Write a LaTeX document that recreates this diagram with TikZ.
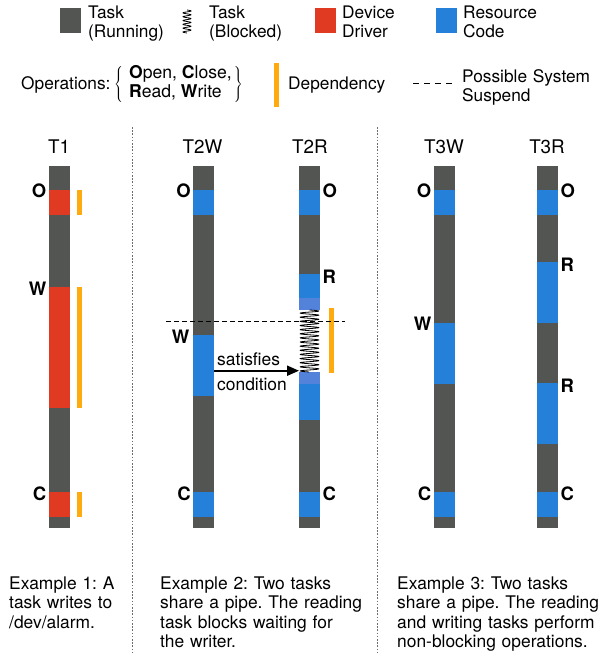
\documentclass[tikz,border=0pt]{standalone}
\usepackage{fontspec}
\setmainfont{TeX Gyre Heros}
\usetikzlibrary{arrows.meta}
\definecolor{taskgray}{RGB}{83,85,82}
\definecolor{drvred}{RGB}{224,58,35}
\definecolor{resblue}{RGB}{37,128,217}
\definecolor{lightres}{RGB}{82,130,218}
\definecolor{depor}{RGB}{255,171,15}
\definecolor{divgray}{RGB}{110,110,110}
\newcommand\barseg[4]{\fill[#1] (#2-10.5,#3) rectangle (#2+10.5,#4);}
\frenchspacing
\begin{document}
\begin{tikzpicture}[x=1pt,y=-1pt,
  txt/.style={font=\fontsize{17.3}{19.5}\selectfont, inner sep=0pt},
  multi/.style={txt, text width=#1, align=left, anchor=base west},
  captxt/.style={font=\fontsize{17.4}{19.3}\selectfont, inner sep=0pt, text width=#1, align=left, anchor=base west},
  oplab/.style={font=\fontsize{18.5}{19.5}\selectfont\bfseries, inner sep=0pt},
  title/.style={font=\fontsize{18.8}{19.5}\selectfont, inner sep=0pt, anchor=center},
  depline/.style={draw=depor, line width=5pt},
  divider/.style={draw=divgray, line width=0.9pt, dash pattern=on 1.6pt off 1.6pt},
  suspend/.style={draw=black, line width=1pt, dash pattern=on 5pt off 3pt},
  spring/.style={draw=black, line width=0.8pt}]
\useasboundingbox (0,0) rectangle (602,653);

% ---------- legend ----------
\fill[taskgray] (60,8) rectangle (81,33);
\node[multi=100pt] (lgTask) at (88,18) {Task\\(Running)};
\draw[spring] plot[domain=0:1, samples=120] ({187+4*sin(2160*\x)}, {10+23*\x});
\node[multi=100pt] (lgBlk) at (209,18) {Task\\(Blocked)};
\fill[drvred] (315,8) rectangle (336,33);
\node[multi=100pt] (lgDrv) at (342,18) {Device\\Driver};
\fill[resblue] (436,8) rectangle (457,33);
\node[multi=100pt] (lgRes) at (463,18) {Resource\\Code};

\node[txt, anchor=base west] (lgOps) at (21,89) {Operations:};
\node[txt, anchor=west, font=\fontsize{17.6}{19.5}\selectfont] (lgOpList) at (114,84)
  {$\left\{\begin{tabular}{@{\hspace{6pt}}l@{\hspace{2pt}}}\textbf{O}pen, \textbf{C}lose,\\ \textbf{R}ead, \textbf{W}rite\end{tabular}\right\}$};
\draw[depline] (276.5,63) -- (276.5,107);
\node[txt, anchor=base west] (lgDep) at (288,89) {Dependency};
\draw[suspend, dash pattern=on 6pt off 5pt] (413,83.5) -- (452,83.5);
\node[multi=150pt] (lgSus) at (462,82) {Possible System\\Suspend};

% ---------- dividers ----------
\draw[divider] (132.5,127) -- (132.5,653);
\draw[divider] (377,127) -- (377,653);

% ---------- column titles ----------
\node[title] (tT1) at (59,147) {T1};
\node[title] (tT2W) at (202.5,147) {T2W};
\node[title] (tT2R) at (310,147) {T2R};
\node[title] (tT3W) at (444,147) {T3W};
\node[title] (tT3R) at (547,147) {T3R};

% ---------- T1 ----------
\barseg{taskgray}{59.5}{166}{528}
\barseg{drvred}{59.5}{190}{215}
\barseg{drvred}{59.5}{287}{408}
\barseg{drvred}{59.5}{492}{517}
\draw[depline] (79.5,190) -- (79.5,215);
\draw[depline] (79.5,287) -- (79.5,408);
\draw[depline] (79.5,492) -- (79.5,517);
\node[oplab, anchor=east] (t1O) at (46.5,191) {O};
\node[oplab, anchor=east] (t1W) at (46.5,289) {W};
\node[oplab, anchor=east] (t1C) at (46.5,494) {C};

% ---------- T2W ----------
\barseg{taskgray}{203.5}{166}{528}
\barseg{resblue}{203.5}{190}{215}
\barseg{resblue}{203.5}{335}{396}
\barseg{resblue}{203.5}{492}{517}
\node[oplab, anchor=east] (t2wO) at (191,191) {O};
\node[oplab, anchor=east] (t2wW) at (189.5,337) {W};
\node[oplab, anchor=east] (t2wC) at (191,494) {C};

% ---------- T2R ----------
\barseg{taskgray}{309.5}{166}{528}
\barseg{resblue}{309.5}{190}{215}
\barseg{resblue}{309.5}{274}{298}
\barseg{lightres}{309.5}{298}{310}
\barseg{white}{309.5}{310}{372}
\barseg{lightres}{309.5}{372}{384}
\barseg{resblue}{309.5}{384}{420}
\barseg{resblue}{309.5}{492}{517}
\draw[spring] plot[domain=0:1, samples=500] ({309.5+9.3*sin(5400*\x)}, {310+62*\x});
\draw[depline] (331.8,308) -- (331.8,373);
\node[oplab, anchor=west] (t2rO) at (322.5,191) {O};
\node[oplab, anchor=west] (t2rR) at (322.5,277) {R};
\node[oplab, anchor=west] (t2rC) at (322.5,494) {C};

% suspend line
\coordinate (susL) at (166,321.5);
\coordinate (susR) at (345,321.5);
\draw[suspend] (susL) -- (susR);

% satisfies arrow
\coordinate (wsrc) at (214,370.7);
\coordinate (wdst) at (299,370.7);
\draw[line width=2pt, -{Triangle[length=12pt,width=10pt]}] (wsrc) -- (wdst);
\node[captxt=100pt] (sat1) at (217,365.5) {satisfies};
\node[captxt=100pt] (sat2) at (217,390) {condition};

% ---------- T3W ----------
\barseg{taskgray}{444.5}{166}{528}
\barseg{resblue}{444.5}{190}{215}
\barseg{resblue}{444.5}{323}{384}
\barseg{resblue}{444.5}{492}{517}
\node[oplab, anchor=east] (t3wO) at (431.5,191) {O};
\node[oplab, anchor=east] (t3wW) at (431.5,324) {W};
\node[oplab, anchor=east] (t3wC) at (431.5,494) {C};

% ---------- T3R ----------
\barseg{taskgray}{547.5}{166}{528}
\barseg{resblue}{547.5}{190}{215}
\barseg{resblue}{547.5}{262}{323}
\barseg{resblue}{547.5}{383}{444}
\barseg{resblue}{547.5}{492}{517}
\node[oplab, anchor=west] (t3rO) at (560.5,191) {O};
\node[oplab, anchor=west] (t3rR1) at (560.5,265) {R};
\node[oplab, anchor=west] (t3rR2) at (560.5,386) {R};
\node[oplab, anchor=west] (t3rC) at (560.5,494) {C};

% ---------- captions ----------
\node[captxt=140pt] (cap1) at (9,589.5) {Example 1: A\\task writes to\\/dev/alarm.};
\node[captxt=210pt] (cap2) at (160,589.5) {Example 2: Two tasks\\share a pipe. The reading\\task blocks waiting for\\the writer.};
\node[captxt=204pt] (cap3) at (397,589.5) {Example 3: Two tasks\\share a pipe. The reading\\and writing tasks perform\\non-blocking operations.};
\end{tikzpicture}
\end{document}
